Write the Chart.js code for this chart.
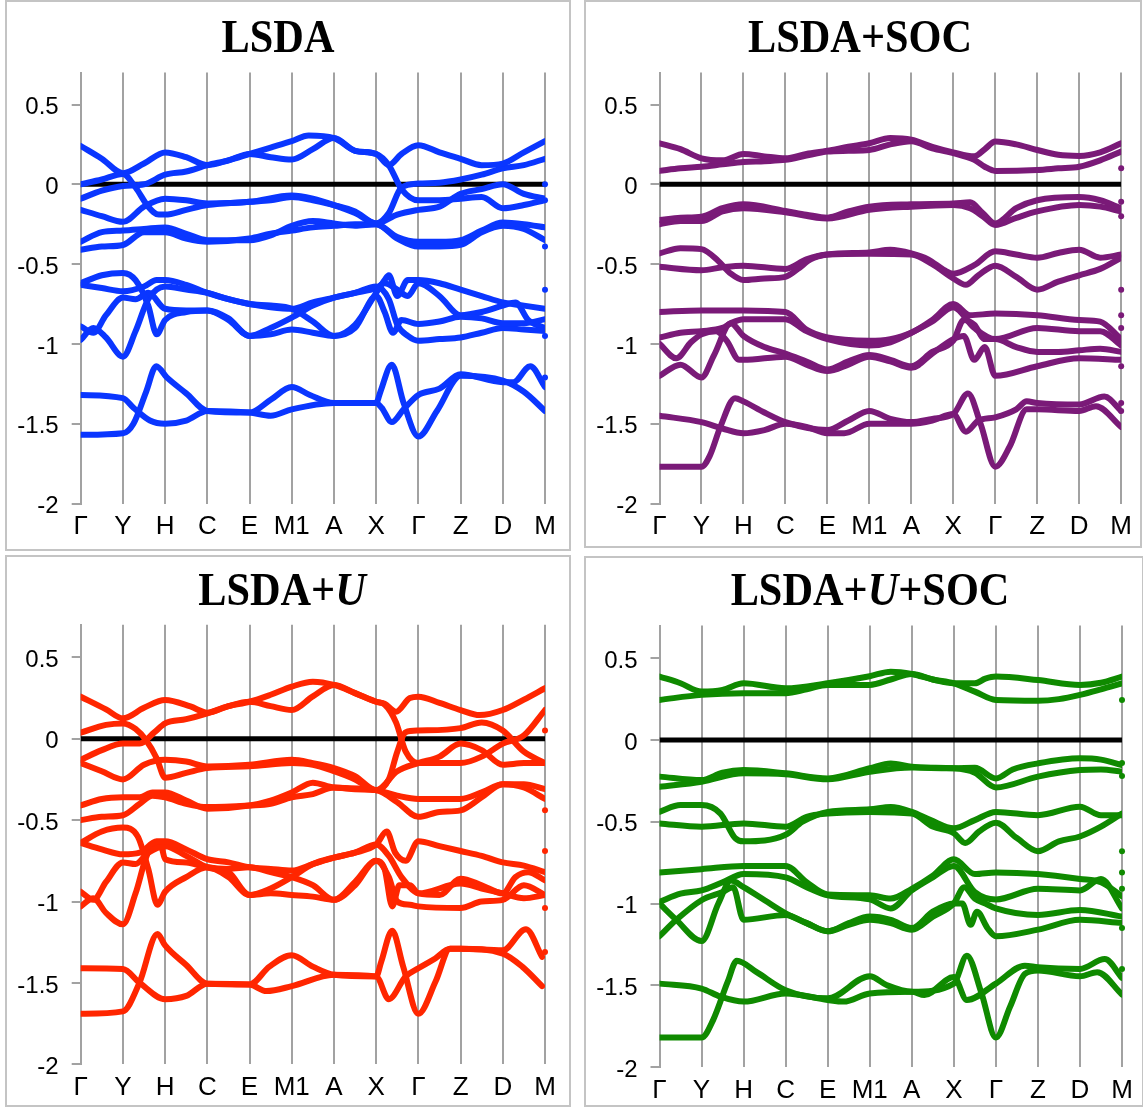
<!DOCTYPE html>
<html><head><meta charset="utf-8">
<script src="https://cdn.jsdelivr.net/npm/chart.js@4.4.1/dist/chart.umd.min.js"></script>
<style>
html,body{margin:0;padding:0;background:#fff}
body{width:1143px;height:1107px;position:relative;overflow:hidden}
.frame{position:absolute;border:2px solid #c4c4c4;box-sizing:border-box}
.title{position:absolute;font-family:"Liberation Serif","Times New Roman",serif;font-weight:bold;font-size:46px;line-height:1;white-space:nowrap;color:#000;transform:translateX(-50%) scaleX(0.92)}
canvas{position:absolute}
</style></head>
<body>
<div class="frame" style="left:5px;top:0px;width:566px;height:551px"></div>
<div class="frame" style="left:584px;top:0px;width:558px;height:548px"></div>
<div class="frame" style="left:5px;top:555px;width:566px;height:552px"></div>
<div class="frame" style="left:584px;top:556px;width:560px;height:551px"></div>
<canvas id="c1" width="562" height="546" style="left:7px;top:2px"></canvas>
<canvas id="c2" width="554" height="544" style="left:586px;top:2px"></canvas>
<canvas id="c3" width="562" height="548" style="left:7px;top:557px"></canvas>
<canvas id="c4" width="555" height="548" style="left:586px;top:558px"></canvas>
<div class="title" style="left:278px;top:14px">LSDA</div>
<div class="title" style="left:860px;top:14px">LSDA+SOC</div>
<div class="title" style="left:282px;top:567px">LSDA+<i>U</i></div>
<div class="title" style="left:870px;top:567px">LSDA+<i>U</i>+SOC</div>
<script>
// ---------- data ----------
const kPathLabels = ['Γ','Y','H','C','E','M1','A','X','Γ','Z','D','M'];
const yTickValues = [0.5, 0, -0.5, -1, -1.5, -2];
const fermiLevel = 0;

// LSDA bands: [k, E]
const lsdaBands = [
 [[0,0.24],[0.5,0.16],[1,0.07],[1.5,0.13],[2,0.2],[2.5,0.17],[3,0.12],[3.5,0.15],[4,0.19],[4.5,0.23],[5,0.27],[5.4,0.305],[6,0.29],[6.5,0.21],[7,0.19],[7.3,0.12],[7.6,0.19],[8,0.245],[8.5,0.2],[9,0.16],[9.5,0.12],[10,0.13],[10.5,0.2],[11,0.27]],
 [[0,0.0],[0.5,0.03],[1,0.065],[1.3,-0.02],[1.6,-0.14],[1.85,-0.19],[2,-0.19],[2.5,-0.16],[3,-0.13],[4,-0.11],[4.5,-0.1],[5,-0.08],[5.5,-0.1],[6,-0.13],[6.5,-0.17],[7,-0.245],[7.3,-0.18],[7.6,-0.02],[8,0.005],[8.5,0.01],[9,0.03],[9.5,0.06],[10,0.1],[10.5,0.12],[11,0.16]],
 [[0,-0.09],[0.5,-0.04],[1,-0.01],[1.5,0.0],[2,0.06],[2.5,0.08],[3,0.12],[3.5,0.15],[4,0.19],[4.5,0.17],[5,0.155],[5.5,0.22],[6,0.29],[6.5,0.21],[7,0.19],[7.3,0.12],[7.6,-0.03],[8,-0.1],[8.5,-0.1],[9,-0.09],[9.5,-0.08],[10,-0.15],[10.5,-0.13],[11,-0.1]],
 [[0,-0.16],[0.5,-0.2],[1,-0.235],[1.5,-0.14],[2,-0.09],[2.5,-0.1],[3,-0.12],[4,-0.11],[5,-0.07],[5.5,-0.09],[6,-0.13],[6.5,-0.18],[7,-0.245],[7.5,-0.19],[8,-0.16],[8.5,-0.14],[9,-0.06],[9.5,-0.03],[10,0.0],[10.5,-0.06],[11,-0.09]],
 [[0,-0.36],[0.5,-0.3],[1,-0.29],[1.5,-0.28],[2,-0.27],[2.5,-0.31],[3,-0.35],[4,-0.35],[4.5,-0.32],[5,-0.26],[5.5,-0.23],[6,-0.245],[6.5,-0.26],[7,-0.25],[7.5,-0.33],[8,-0.36],[8.5,-0.36],[9,-0.35],[9.5,-0.29],[10,-0.24],[10.5,-0.25],[11,-0.27]],
 [[0,-0.41],[0.5,-0.39],[1,-0.38],[1.5,-0.3],[2,-0.3],[2.5,-0.34],[3,-0.36],[4,-0.34],[4.5,-0.31],[5,-0.29],[5.5,-0.27],[6,-0.26],[6.5,-0.25],[7,-0.25],[7.5,-0.34],[8,-0.39],[8.5,-0.39],[9,-0.38],[9.5,-0.3],[10,-0.26],[10.5,-0.28],[11,-0.35]],
 [[0,-0.62],[0.5,-0.57],[1,-0.555],[1.3,-0.6],[1.6,-0.76],[1.8,-0.94],[2,-0.85],[2.5,-0.8],[3,-0.79],[3.5,-0.85],[4,-0.95],[4.5,-0.94],[5,-0.91],[5.5,-0.93],[6,-0.95],[6.5,-0.88],[7,-0.68],[7.2,-0.6],[7.3,-0.57],[7.5,-0.7],[7.75,-0.6],[8,-0.6],[8.5,-0.62],[9,-0.66],[9.5,-0.7],[10,-0.74],[10.5,-0.76],[11,-0.78]],
 [[0,-0.63],[0.5,-0.65],[1,-0.67],[1.5,-0.64],[1.8,-0.6],[2,-0.6],[2.5,-0.63],[3,-0.68],[3.5,-0.72],[4,-0.75],[4.5,-0.76],[5,-0.78],[5.5,-0.86],[6,-0.95],[6.5,-0.9],[7,-0.7],[7.2,-0.8],[7.4,-0.93],[7.6,-0.85],[8,-0.875],[8.5,-0.86],[9,-0.83],[9.5,-0.84],[10,-0.87],[10.5,-0.87],[11,-0.845]],
 [[0,-0.89],[0.3,-0.93],[0.6,-0.82],[1,-0.71],[1.3,-0.72],[1.6,-0.68],[2,-0.78],[2.5,-0.79],[3,-0.79],[3.5,-0.84],[4,-0.95],[4.5,-0.9],[5,-0.835],[5.5,-0.76],[6,-0.71],[6.5,-0.68],[7,-0.64],[7.3,-0.72],[7.5,-0.88],[7.75,-0.95],[8,-0.98],[8.5,-0.97],[9,-0.96],[9.5,-0.93],[10,-0.9],[10.5,-0.91],[11,-0.92]],
 [[0,-0.975],[0.3,-0.9],[0.6,-0.96],[1,-1.08],[1.3,-0.92],[1.6,-0.72],[2,-0.64],[2.5,-0.66],[3,-0.68],[3.5,-0.72],[4,-0.75],[4.5,-0.77],[5,-0.78],[5.5,-0.74],[6,-0.71],[6.5,-0.68],[7,-0.65],[7.2,-0.62],[7.5,-0.66],[7.75,-0.7],[8,-0.62],[8.5,-0.7],[9,-0.82],[9.5,-0.8],[10,-0.76],[10.3,-0.74],[10.6,-0.85],[11,-0.9]],
 [[0,-1.32],[1,-1.34],[1.25,-1.4],[1.64,-1.48],[2,-1.5],[2.5,-1.48],[3,-1.42],[4,-1.43],[4.5,-1.45],[5,-1.41],[6,-1.37],[7,-1.37],[7.13,-1.4],[7.37,-1.49],[7.65,-1.41],[8,-1.32],[8.5,-1.28],[9,-1.19],[10,-1.24],[10.25,-1.24],[10.65,-1.14],[11,-1.27]],
 [[0,-1.57],[1,-1.56],[1.25,-1.5],[1.55,-1.3],[1.79,-1.14],[2.04,-1.21],[2.5,-1.31],[3,-1.42],[4,-1.43],[4.5,-1.35],[5,-1.27],[5.43,-1.32],[6,-1.37],[7,-1.37],[7.1,-1.3],[7.37,-1.13],[7.65,-1.37],[8,-1.58],[8.44,-1.42],[9,-1.2],[10,-1.23],[10.5,-1.3],[11,-1.42]]
];
const lsdaEdgeDots = [0.0, -0.1, -0.39, -0.66, -0.95, -1.21];

// LSDA+SOC bands
const lsdaSocBands = [
 [[0,0.257],[0.5,0.22],[1,0.163],[1.5,0.15],[2,0.19],[2.5,0.175],[3,0.163],[3.5,0.19],[4,0.21],[4.5,0.235],[5,0.257],[5.5,0.29],[6,0.28],[6.5,0.235],[7,0.2],[7.5,0.175],[7.75,0.22],[8,0.268],[8.5,0.25],[9,0.215],[9.5,0.185],[10,0.178],[10.5,0.2],[11,0.257]],
 [[0,0.084],[0.5,0.1],[1,0.11],[1.5,0.125],[2,0.14],[2.5,0.145],[3,0.153],[3.5,0.18],[4,0.205],[4.5,0.21],[5,0.215],[5.5,0.25],[6,0.27],[6.5,0.225],[7,0.195],[7.5,0.153],[7.75,0.11],[8,0.084],[9,0.09],[9.5,0.1],[10,0.11],[10.5,0.15],[11,0.205]],
 [[0,-0.224],[0.5,-0.21],[1,-0.203],[1.5,-0.15],[2,-0.125],[3,-0.167],[3.5,-0.19],[4,-0.209],[4.5,-0.17],[5,-0.14],[6,-0.125],[7,-0.12],[7.4,-0.113],[7.7,-0.18],[8,-0.245],[8.5,-0.15],[9,-0.1],[10,-0.08],[10.5,-0.1],[11,-0.15]],
 [[0,-0.25],[0.5,-0.23],[1,-0.23],[1.5,-0.17],[2,-0.15],[3,-0.175],[4,-0.215],[5,-0.16],[6,-0.14],[7,-0.13],[7.4,-0.15],[7.7,-0.2],[8,-0.255],[8.5,-0.21],[9,-0.17],[10,-0.13],[10.5,-0.14],[11,-0.17]],
 [[0,-0.433],[0.5,-0.4],[1,-0.406],[1.4,-0.48],[1.7,-0.56],[2,-0.6],[2.5,-0.59],[3,-0.58],[3.3,-0.53],[3.6,-0.47],[4,-0.44],[5,-0.427],[5.5,-0.41],[6,-0.433],[6.4,-0.47],[6.8,-0.54],[7,-0.56],[7.5,-0.506],[8,-0.42],[8.5,-0.44],[9,-0.46],[9.5,-0.43],[10,-0.41],[10.5,-0.46],[11,-0.44]],
 [[0,-0.517],[1,-0.538],[1.5,-0.52],[2,-0.51],[3,-0.53],[3.5,-0.47],[4,-0.44],[5,-0.435],[6,-0.44],[6.5,-0.5],[7,-0.59],[7.3,-0.63],[7.6,-0.57],[8,-0.51],[8.5,-0.58],[9,-0.66],[9.5,-0.61],[10,-0.57],[10.5,-0.53],[11,-0.46]],
 [[0,-0.8],[1,-0.79],[2,-0.79],[3,-0.8],[3.5,-0.91],[4,-0.96],[5,-0.98],[5.5,-0.97],[6,-0.93],[6.5,-0.85],[7,-0.75],[7.4,-0.82],[8,-0.81],[9,-0.82],[10,-0.85],[10.5,-0.86],[11,-0.97]],
 [[0,-0.96],[0.5,-0.93],[1,-0.92],[1.5,-0.9],[1.7,-0.87],[2,-0.845],[3,-0.845],[3.5,-0.92],[4,-0.97],[5,-1.01],[5.5,-0.99],[6,-0.93],[6.5,-0.86],[7,-0.77],[7.5,-0.9],[8,-0.97],[9,-0.9],[10,-0.92],[10.5,-0.92],[11,-1.01]],
 [[0,-1.0],[0.4,-1.09],[0.75,-0.99],[1,-0.94],[1.35,-0.92],[1.6,-0.98],[1.9,-1.1],[2,-1.1],[3,-1.08],[3.5,-1.13],[4,-1.17],[4.5,-1.13],[5,-1.08],[5.5,-1.11],[6,-1.15],[6.5,-1.06],[7,-0.97],[7.25,-0.95],[7.5,-1.1],[7.75,-1.02],[8,-1.2],[9,-1.14],[10,-1.09],[11,-1.1]],
 [[0,-1.2],[0.5,-1.13],[1,-1.21],[1.3,-1.07],[1.7,-0.87],[2,-0.95],[2.5,-1.02],[3,-1.06],[3.5,-1.11],[4,-1.16],[4.5,-1.11],[5,-1.07],[5.5,-1.1],[6,-1.14],[6.5,-1.05],[7,-0.98],[7.25,-0.85],[7.5,-0.88],[7.75,-0.97],[8,-0.97],[8.5,-1.02],[9,-1.05],[9.5,-1.05],[10,-1.04],[10.5,-1.03],[11,-1.05]],
 [[0,-1.45],[1,-1.49],[1.5,-1.53],[2,-1.56],[2.5,-1.54],[3,-1.5],[3.5,-1.52],[4,-1.56],[4.4,-1.56],[5,-1.5],[6,-1.5],[6.5,-1.48],[7,-1.44],[7.3,-1.55],[7.6,-1.48],[8,-1.46],[8.5,-1.41],[8.75,-1.36],[9,-1.37],[10,-1.38],[10.6,-1.33],[11,-1.42]],
 [[0,-1.77],[1,-1.77],[1.2,-1.7],[1.45,-1.52],[1.8,-1.34],[2,-1.36],[2.5,-1.43],[3,-1.49],[4,-1.54],[4.5,-1.48],[5,-1.42],[5.5,-1.47],[6,-1.49],[6.5,-1.47],[7,-1.44],[7.35,-1.31],[7.65,-1.5],[8,-1.77],[8.35,-1.64],[8.75,-1.41],[9,-1.41],[10,-1.42],[10.4,-1.39],[11,-1.52]]
];
const lsdaSocEdgeDots = [0.1, -0.11, -0.2, -0.66, -0.82, -0.9, -1.14, -1.37, -1.42];

// LSDA+U bands
const lsdaUBands = [
 [[0,0.258],[0.6,0.18],[1,0.125],[1.5,0.19],[2,0.238],[2.6,0.198],[3,0.16],[3.5,0.2],[4,0.227],[4.5,0.27],[5,0.32],[5.5,0.35],[6,0.33],[6.5,0.28],[7,0.227],[7.2,0.215],[7.47,0.166],[7.8,0.25],[8,0.258],[8.5,0.22],[9,0.176],[9.45,0.145],[10,0.176],[10.5,0.24],[11,0.31]],
 [[0,0.037],[0.6,0.085],[1,0.094],[1.3,0.06],[1.55,-0.01],[1.8,-0.12],[2,-0.24],[2.5,-0.21],[3,-0.18],[4,-0.17],[5,-0.15],[5.5,-0.16],[6,-0.2],[6.5,-0.25],[7,-0.316],[7.3,-0.25],[7.5,-0.08],[7.7,0.04],[8,0.05],[9,0.065],[9.5,0.1],[10,0.05],[10.5,-0.08],[11,-0.15]],
 [[0,-0.13],[0.5,-0.07],[1,-0.03],[1.4,-0.03],[1.75,0.04],[2,0.094],[2.5,0.12],[3,0.156],[3.5,0.2],[4,0.227],[4.5,0.2],[5,0.176],[5.5,0.26],[6,0.33],[6.5,0.28],[7,0.227],[7.2,0.21],[7.47,0.1],[7.7,-0.08],[8,-0.15],[8.5,-0.15],[9,-0.15],[9.5,-0.11],[10,-0.03],[10.5,0.02],[11,0.176]],
 [[0,-0.15],[0.5,-0.2],[1,-0.25],[1.5,-0.16],[2,-0.13],[2.5,-0.14],[3,-0.17],[4,-0.16],[5,-0.13],[5.5,-0.15],[6,-0.18],[6.5,-0.23],[7,-0.316],[7.5,-0.2],[8,-0.15],[8.5,-0.11],[9,-0.03],[9.5,-0.07],[10,-0.16],[10.5,-0.15],[11,-0.15]],
 [[0,-0.41],[0.5,-0.37],[1,-0.36],[1.4,-0.36],[1.7,-0.33],[2,-0.33],[2.5,-0.38],[3,-0.43],[4,-0.41],[4.5,-0.38],[5,-0.33],[5.5,-0.27],[6,-0.3],[7,-0.316],[7.5,-0.39],[8,-0.48],[8.5,-0.45],[9,-0.44],[9.5,-0.36],[10,-0.28],[10.5,-0.3],[11,-0.37]],
 [[0,-0.5],[0.5,-0.48],[1,-0.47],[1.4,-0.4],[1.7,-0.35],[2,-0.36],[2.5,-0.4],[3,-0.42],[4,-0.41],[4.5,-0.4],[5,-0.36],[5.5,-0.34],[6,-0.3],[6.5,-0.31],[7,-0.316],[7.5,-0.35],[8,-0.37],[8.5,-0.37],[9,-0.37],[9.5,-0.33],[10,-0.28],[10.5,-0.28],[11,-0.31]],
 [[0,-0.64],[0.5,-0.57],[1,-0.546],[1.35,-0.6],[1.6,-0.8],[1.82,-1.02],[2,-0.94],[2.5,-0.85],[3,-0.79],[3.5,-0.85],[4,-0.96],[4.5,-0.95],[5,-0.96],[5.5,-0.97],[6,-0.99],[6.5,-0.9],[7,-0.75],[7.2,-0.8],[7.38,-1.03],[7.55,-0.9],[7.8,-0.9],[8,-0.95],[9,-0.89],[9.5,-0.92],[10,-0.95],[10.5,-0.98],[11,-0.96]],
 [[0,-0.64],[0.5,-0.68],[1,-0.71],[1.4,-0.7],[1.8,-0.63],[2,-0.63],[2.5,-0.68],[3,-0.74],[3.5,-0.76],[4,-0.79],[4.5,-0.8],[5,-0.81],[5.5,-0.77],[6,-0.73],[6.5,-0.7],[7,-0.65],[7.25,-0.57],[7.45,-0.7],[7.7,-0.75],[8,-0.63],[8.5,-0.66],[9,-0.69],[9.5,-0.72],[10,-0.76],[10.5,-0.78],[11,-0.82]],
 [[0,-0.94],[0.3,-0.99],[0.6,-0.88],[1,-0.76],[1.3,-0.77],[1.6,-0.7],[2,-0.66],[2.5,-0.72],[3,-0.79],[3.5,-0.82],[4,-0.96],[4.5,-0.92],[5,-0.85],[5.5,-0.77],[6,-0.73],[6.5,-0.7],[7,-0.65],[7.3,-0.72],[7.6,-0.85],[8,-0.95],[8.5,-0.96],[9,-0.86],[9.5,-0.9],[10,-0.95],[10.3,-0.85],[10.6,-0.82],[11,-0.87]],
 [[0,-1.03],[0.3,-0.98],[0.6,-1.07],[1,-1.14],[1.3,-0.95],[1.6,-0.7],[1.9,-0.66],[2,-0.74],[2.5,-0.76],[3,-0.79],[3.5,-0.8],[4,-0.79],[4.5,-0.82],[5,-0.85],[5.5,-0.9],[6,-0.99],[6.5,-0.88],[7,-0.75],[7.3,-0.85],[7.5,-1.0],[7.8,-1.02],[8,-1.03],[9,-1.04],[9.5,-1.0],[10,-0.99],[10.5,-0.9],[11,-0.96]],
 [[0,-1.41],[1,-1.415],[1.4,-1.5],[2,-1.6],[2.5,-1.58],[3,-1.505],[4,-1.51],[4.4,-1.55],[5,-1.52],[6,-1.45],[7,-1.46],[7.3,-1.6],[7.7,-1.46],[8,-1.41],[8.4,-1.35],[8.75,-1.29],[9,-1.29],[10,-1.3],[10.55,-1.17],[10.93,-1.34]],
 [[0,-1.69],[1,-1.675],[1.39,-1.5],[1.82,-1.2],[2,-1.27],[2.5,-1.39],[3,-1.505],[4,-1.51],[4.47,-1.4],[5,-1.33],[5.5,-1.4],[6,-1.45],[7,-1.46],[7.12,-1.37],[7.38,-1.18],[7.64,-1.4],[8,-1.69],[8.41,-1.49],[8.75,-1.29],[9,-1.29],[10,-1.32],[10.46,-1.4],[10.93,-1.52]]
];
const lsdaUEdgeDots = [0.05, -0.44, -0.69, -1.04, -1.31];

// LSDA+U+SOC bands
const lsdaUSocBands = [
 [[0,0.388],[0.5,0.347],[1,0.296],[1.5,0.306],[2,0.347],[3,0.316],[4,0.347],[5,0.39],[5.5,0.418],[6,0.404],[6.5,0.37],[7,0.347],[7.5,0.347],[7.75,0.375],[8,0.388],[9,0.367],[10,0.337],[10.5,0.35],[11,0.388]],
 [[0,0.245],[1,0.276],[2,0.286],[3,0.286],[3.5,0.31],[4,0.337],[5,0.337],[5.5,0.37],[6,0.404],[6.5,0.37],[7,0.347],[7.5,0.296],[8,0.245],[9,0.24],[9.5,0.25],[10,0.276],[10.5,0.31],[11,0.347]],
 [[0,-0.224],[1,-0.245],[1.5,-0.2],[2,-0.184],[3,-0.204],[4,-0.235],[5,-0.173],[5.5,-0.143],[6,-0.163],[7,-0.173],[7.5,-0.17],[8,-0.235],[8.4,-0.18],[9,-0.143],[10,-0.112],[10.5,-0.12],[11,-0.153]],
 [[0,-0.286],[1,-0.255],[2,-0.204],[3,-0.21],[4,-0.24],[5,-0.194],[6,-0.168],[7,-0.173],[7.5,-0.2],[8,-0.29],[9,-0.224],[10,-0.184],[10.5,-0.18],[11,-0.194]],
 [[0,-0.439],[0.5,-0.398],[1,-0.398],[1.45,-0.45],[1.8,-0.6],[2,-0.62],[3,-0.58],[3.4,-0.5],[4,-0.44],[5,-0.424],[5.5,-0.41],[6,-0.44],[6.45,-0.49],[7,-0.54],[7.5,-0.49],[8,-0.44],[9,-0.46],[10,-0.408],[10.5,-0.46],[11,-0.46]],
 [[0,-0.51],[1,-0.53],[2,-0.51],[3,-0.53],[3.5,-0.47],[4,-0.45],[5,-0.44],[6,-0.45],[6.5,-0.53],[7,-0.57],[7.27,-0.63],[7.6,-0.56],[8,-0.506],[8.5,-0.6],[9,-0.68],[9.5,-0.62],[10,-0.59],[10.5,-0.53],[11,-0.45]],
 [[0,-0.81],[1,-0.79],[2,-0.77],[3,-0.77],[3.5,-0.87],[4,-0.945],[5,-0.95],[5.5,-0.97],[6,-0.91],[6.5,-0.83],[7,-0.73],[7.5,-0.82],[8,-0.81],[9,-0.82],[10,-0.85],[10.5,-0.87],[11,-0.955]],
 [[0,-0.99],[0.5,-0.94],[1,-0.92],[1.5,-0.87],[2,-0.82],[3,-0.84],[3.5,-0.9],[4,-0.95],[5,-0.975],[5.5,-1.03],[6,-0.92],[6.5,-0.84],[7,-0.77],[7.5,-0.93],[8,-0.975],[9,-0.91],[10,-0.92],[10.5,-0.85],[11,-1.03]],
 [[0,-1.0],[0.4,-1.1],[1,-1.23],[1.4,-1.0],[1.7,-0.86],[2,-0.9],[2.5,-0.98],[3,-1.06],[3.5,-1.12],[4,-1.17],[4.5,-1.13],[5,-1.1],[5.5,-1.12],[6,-1.16],[6.5,-1.08],[7,-1.0],[7.25,-0.9],[7.5,-0.97],[7.75,-1.0],[8,-1.03],[9,-1.07],[10,-1.04],[11,-1.08]],
 [[0,-1.2],[0.4,-1.1],[1,-0.98],[1.5,-0.93],[1.75,-0.9],[2,-1.1],[3,-1.07],[3.5,-1.12],[4,-1.17],[4.5,-1.12],[5,-1.08],[5.5,-1.1],[6,-1.15],[6.5,-1.05],[7,-1.0],[7.2,-1.0],[7.4,-1.13],[7.55,-1.05],[7.8,-1.15],[8,-1.2],[9,-1.16],[10,-1.1],[11,-1.12]],
 [[0,-1.49],[1,-1.52],[1.45,-1.57],[2,-1.6],[3,-1.55],[4,-1.59],[4.38,-1.6],[5,-1.55],[6,-1.54],[6.3,-1.56],[7,-1.45],[7.31,-1.59],[8,-1.49],[8.69,-1.38],[9,-1.39],[10,-1.4],[10.59,-1.34],[11,-1.455]],
 [[0,-1.82],[1,-1.82],[1.28,-1.71],[1.62,-1.48],[1.84,-1.35],[2.31,-1.42],[3,-1.53],[4,-1.58],[5,-1.445],[5.41,-1.5],[6,-1.54],[7,-1.49],[7.31,-1.32],[7.66,-1.55],[8,-1.82],[8.34,-1.63],[8.69,-1.43],[9,-1.41],[10,-1.445],[10.41,-1.42],[11,-1.557]]
];
const lsdaUSocEdgeDots = [0.245, -0.14, -0.22, -0.68, -0.81, -0.91, -1.15, -1.4];

// ---------- drawing ----------
const GRID = '#a2a2a2';
function makeChart(id, bands, dots, color, g) {
  const cv = document.getElementById(id);
  const W = cv.width, H = cv.height;
  const yMax = 0.7, yMin = -2;
  const top = g.zeroY - yMax * g.ppu;
  const bottom = g.zeroY - yMin * g.ppu;
  const xAxisH = 40;
  const datasets = bands.map(b => ({
    data: b.map(p => ({x: p[0], y: p[1]})),
    borderColor: color, borderWidth: 6, pointRadius: 0,
    cubicInterpolationMode: 'monotone', fill: false,
    borderCapStyle: 'round', borderJoinStyle: 'round', order: 1
  }));
  datasets.push({
    data: dots.map(v => ({x: 11, y: v})), showLine: false,
    pointRadius: 3, pointBackgroundColor: color, pointBorderWidth: 0,
    borderColor: color, clip: 6, order: 0
  });
  datasets.push({
    data: [{x: 0, y: fermiLevel}, {x: 11, y: fermiLevel}],
    borderColor: '#000', borderWidth: 5, pointRadius: 0, order: 5
  });
  new Chart(cv, {
    type: 'line',
    data: {datasets},
    options: {
      responsive: false, animation: false, events: [], devicePixelRatio: 1,
      layout: {padding: {left: 0, right: (g.cx + W) - g.right, top: top - g.cy, bottom: (g.cy + H) - bottom - xAxisH}},
      plugins: {legend: {display: false}, tooltip: {enabled: false}, title: {display: false}},
      scales: {
        x: {
          type: 'linear', min: 0, max: 11,
          afterBuildTicks: s => { s.ticks = kPathLabels.map((_, i) => ({value: i})); },
          afterFit: s => { s.height = xAxisH; },
          ticks: {autoSkip: false, maxRotation: 0, minRotation: 0, padding: 8, color: '#000',
                  font: {family: '"Liberation Sans", Arial, sans-serif', size: 26},
                  callback: (v, i) => kPathLabels[i]},
          grid: {color: GRID, lineWidth: 2, drawTicks: false},
          border: {display: false}
        },
        y: {
          type: 'linear', min: yMin, max: yMax,
          afterBuildTicks: s => { s.ticks = yTickValues.map(v => ({value: v})); },
          afterFit: s => { s.width = g.left - g.cx; },
          ticks: {padding: 13, color: '#000', labelOffset: 3,
                  font: {family: '"Liberation Sans", Arial, sans-serif', size: 24},
                  callback: v => String(v)},
          grid: {drawOnChartArea: false, drawTicks: true, tickLength: 9, color: GRID, lineWidth: 2},
          border: {display: true, color: GRID, width: 2}
        }
      }
    }
  });
}

makeChart('c1', lsdaBands, lsdaEdgeDots, '#0a36ff', {cx: 7, cy: 2, left: 80.7, right: 545, zeroY: 184.3, ppu: 159.6});
makeChart('c2', lsdaSocBands, lsdaSocEdgeDots, '#7a1a78', {cx: 586, cy: 2, left: 659.5, right: 1121.8, zeroY: 184.3, ppu: 159.6});
makeChart('c3', lsdaUBands, lsdaUEdgeDots, '#ff2600', {cx: 7, cy: 557, left: 80.7, right: 545, zeroY: 738.7, ppu: 162.8});
makeChart('c4', lsdaUSocBands, lsdaUSocEdgeDots, '#0f8a00', {cx: 586, cy: 558, left: 659.5, right: 1122, zeroY: 740, ppu: 163.5});
</script>
</body></html>
